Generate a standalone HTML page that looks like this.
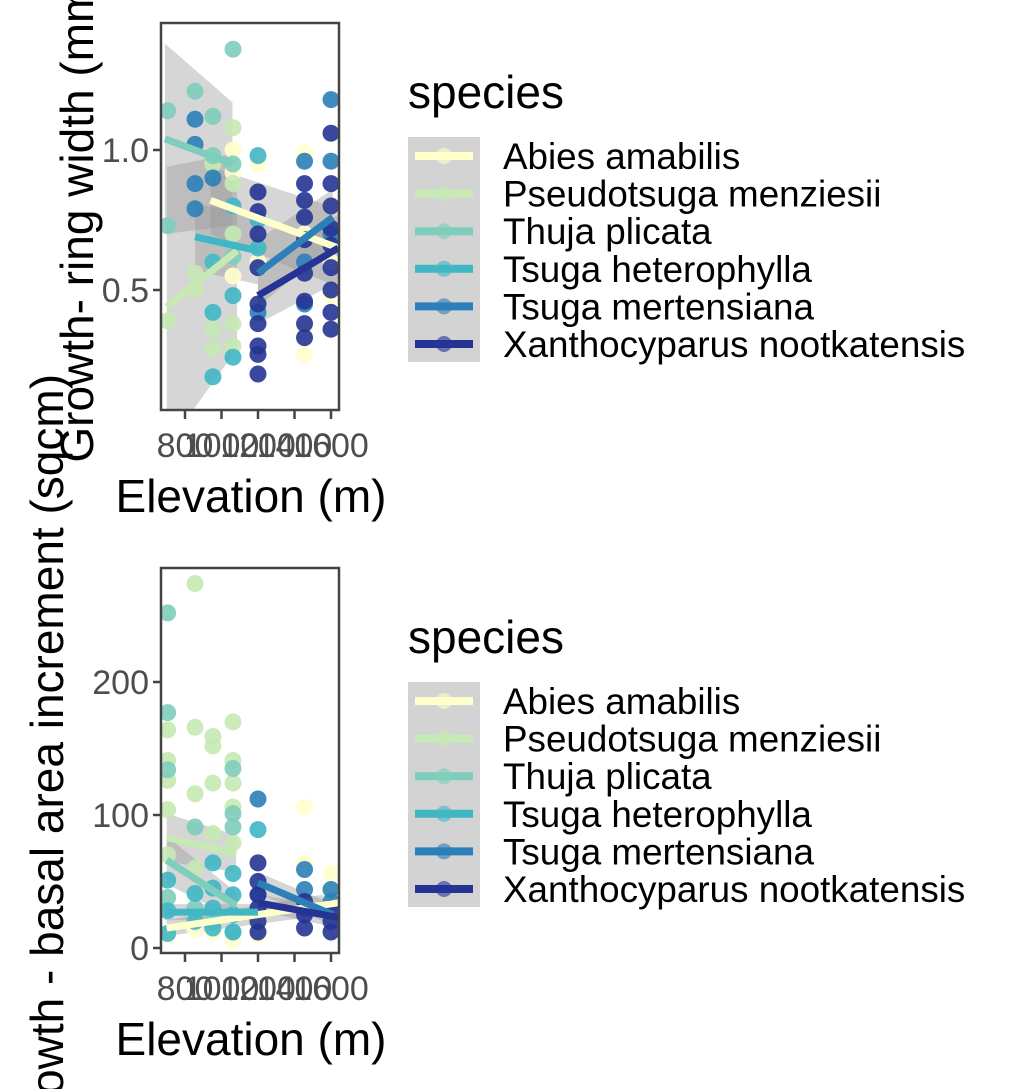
<!DOCTYPE html>
<html><head><meta charset="utf-8"><style>
html,body{margin:0;padding:0;background:#fff;width:1018px;height:1089px;overflow:hidden;}
svg{display:block;font-family:"Liberation Sans",Arial,sans-serif;overflow:hidden;}
</style></head><body>
<svg id="chart" width="1018" height="1089" viewBox="0 0 1018 1089" xmlns="http://www.w3.org/2000/svg"></svg>
<script>
const species = ["Abies amabilis","Pseudotsuga menziesii","Thuja plicata","Tsuga heterophylla","Tsuga mertensiana","Xanthocyparus nootkatensis"];
const colors = ["#ffffcc","#c7e9b4","#7fcdbb","#41b6c4","#2c7fb8","#253494"];
const xTicks = [800,1000,1200,1400,1600];
const ringTicks = [0.5,1.0];
const baiTicks = [0,100,200];

// ring width points [elev, value]
const ringAbies = [[1063,1.0],[1063,0.92],[1200,0.95],[1455,0.99],[1455,0.36],[1455,0.27],[1600,0.48],[1600,0.6],[1200,0.6],[1063,0.55],[1455,0.7],[1600,0.8]];
const ringPseudo = [[705,0.39],[953,0.36],[953,0.29],[1063,1.08],[1063,0.88],[1063,0.38],[1063,0.30],[855,0.56],[953,0.6],[1063,0.7],[953,0.95],[855,0.5]];
const ringThuja = [[705,1.14],[705,0.73],[855,1.21],[1063,1.36],[953,1.12],[1063,0.95],[953,0.98],[1063,0.62]];
const ringTsHet = [[1200,0.98],[953,0.42],[953,0.19],[1063,0.48],[1063,0.26],[1200,0.65],[1063,0.8],[953,0.6],[1200,0.75]];
const ringTsMer = [[1600,1.18],[1600,0.96],[1455,0.96],[855,1.11],[855,1.02],[855,0.88],[855,0.79],[953,0.90],[1200,0.42],[1455,0.45],[1455,0.6],[1600,0.7]];
const ringXan = [[1600,1.06],[1600,0.88],[1600,0.8],[1600,0.72],[1600,0.66],[1600,0.58],[1600,0.5],[1600,0.42],[1600,0.36],[1455,0.88],[1455,0.82],[1455,0.76],[1455,0.68],[1455,0.56],[1455,0.46],[1455,0.38],[1455,0.33],[1200,0.85],[1200,0.78],[1200,0.7],[1200,0.58],[1200,0.45],[1200,0.38],[1200,0.3],[1200,0.27],[1200,0.2]];

const ringFits = [[940,0.82,1640,0.65],[700,0.44,1085,0.64],[690,1.04,1060,0.95],[855,0.69,1200,0.64],[1200,0.56,1610,0.76],[1200,0.48,1640,0.65]];
const ringBands = [[0.12,0.14],[0.5,0.35],[0.34,0.22],[0.12,0.12],[0.12,0.1],[0.1,0.12]];

const baiAbies = [[1455,106],[1600,56],[1455,64],[1200,10],[1063,6],[1600,40],[1455,30],[1200,20],[953,12],[855,14],[705,10]];
const baiPseudo = [[855,274],[705,164],[705,141],[705,126],[705,104],[855,166],[953,159],[953,152],[855,116],[953,124],[1063,170],[1063,141],[1063,124],[1063,106],[953,86],[1063,79],[855,60],[705,70]];
const baiThuja = [[705,252],[705,177],[705,134],[1063,135],[1063,101],[855,91],[1063,91],[705,38],[953,20],[1063,12],[855,30]];
const baiTsHet = [[1200,89],[705,51],[705,11],[855,41],[953,64],[953,45],[953,30],[953,15],[1063,56],[1063,40],[1063,25],[1063,12],[855,20],[705,28]];
const baiTsMer = [[1200,112],[1455,59],[1455,44],[1600,44],[1600,35],[1455,30],[1200,40]];
const baiXan = [[1200,64],[1200,50],[1200,40],[1200,30],[1200,20],[1200,12],[1455,35],[1455,25],[1455,15],[1600,30],[1600,20],[1600,12]];

const baiFits = [[700,15,1640,34],[700,83,1080,71],[700,66,1080,32],[690,27,1200,27],[1200,49,1610,25],[1200,34,1640,23]];
const baiBands = [[6,8],[18,14],[18,10],[6,6],[8,8],[6,8]];

const NS = "http://www.w3.org/2000/svg";
const svg = document.getElementById("chart");
function mk(tag, attrs, parent){const e=document.createElementNS(NS,tag);for(const k in attrs)e.setAttribute(k,attrs[k]);(parent||svg).appendChild(e);return e;}

function panel(cfg){
  const {top,bottom,y0px,yPerUnit,y0val,pts,fits,bands,ticks,fmt,name} = cfg;
  const L=161,R=339;
  const xs = v => 185 + (v-800)*0.1825;
  const ys = v => y0px - (v-y0val)*yPerUnit;
  const g = mk("g",{});
  
  
  const cid = name+"-clip";
  const cp = mk("clipPath",{id:cid},g); mk("rect",{x:L,y:top,width:R-L,height:bottom-top},cp);
  const inner = mk("g",{"clip-path":"url(#"+cid+")"},g);
  fits.forEach((f,i)=>{
    const b=bands[i];
    const p = mk("polygon",{points:[[xs(f[0]),ys(f[1]+b[0])],[xs(f[2]),ys(f[3]+b[1])],[xs(f[2]),ys(f[3]-b[1])],[xs(f[0]),ys(f[1]-b[0])]].map(q=>q.join(",")).join(" "),fill:"#999",opacity:0.4},inner);
    
    
  });
  pts.forEach((arr,i)=>{
    arr.forEach(d=>{
      const c = mk("circle",{cx:xs(d[0]),cy:ys(d[1]),r:8.5,fill:colors[i],opacity:0.9},inner);
      
      
    });
  });
  fits.forEach((f,i)=>{
    const l = mk("line",{x1:xs(f[0]),y1:ys(f[1]),x2:xs(f[2]),y2:ys(f[3]),stroke:colors[i],"stroke-width":7},inner);
    
    
  });
  mk("rect",{x:L,y:top,width:R-L,height:bottom-top,fill:"none",stroke:"#444","stroke-width":2.5},g);
  ticks.forEach(t=>{
    const y=ys(t);
    mk("line",{x1:L-8,x2:L,y1:y,y2:y,stroke:"#444","stroke-width":2.5},g);
    const tx = mk("text",{x:L-12,y:y+12,"text-anchor":"end","font-size":34,fill:"#4d4d4d"},g);
    tx.textContent = fmt(t);
    
    
  });
  xTicks.forEach(t=>{
    const x=xs(t);
    mk("line",{x1:x,x2:x,y1:bottom,y2:bottom+9,stroke:"#444","stroke-width":2.5},g);
    const tx = mk("text",{x:x,y:bottom+47,"text-anchor":"middle","font-size":34,fill:"#4d4d4d"},g);
    tx.textContent = t;
    
    
  });
  const xt = mk("text",{x:251,y:bottom+102,"text-anchor":"middle","font-size":46,fill:"#000"},g);
  xt.textContent="Elevation (m)";
  
  
  const yt = mk("text",{x:0,y:0,"text-anchor":"middle","font-size":46,fill:"#000",transform:"translate("+cfg.ytx+","+cfg.yty+") rotate(-90)"},g);
  yt.textContent=cfg.ytitle;
  
  
  const lg = mk("g",{},g);
  
  
  const lt = mk("text",{x:408,y:cfg.legTop-29,"font-size":46,fill:"#000"},lg);
  lt.textContent="species";
  mk("rect",{x:408,y:cfg.legTop,width:72,height:225,fill:"#d3d3d3"},lg);
  species.forEach((s,i)=>{
    const cy = cfg.legTop+19+i*37.6;
    const e = mk("g",{},lg);
    
    
    mk("line",{x1:415,x2:473,y1:cy,y2:cy,stroke:colors[i],"stroke-width":8},e);
    mk("circle",{cx:444,cy:cy,r:8,fill:colors[i],opacity:0.6},e);
    const tt = mk("text",{x:503,y:cy+13,"font-size":36.8,fill:"#000"},e);
    tt.textContent=s;
  });
}

panel({name:"ring",top:23,bottom:410,y0px:290,yPerUnit:280,y0val:0.5,
  pts:[ringAbies,ringPseudo,ringThuja,ringTsHet,ringTsMer,ringXan],fits:ringFits,bands:ringBands,
  ticks:ringTicks,fmt:t=>t.toFixed(1),ytitle:"Growth- ring width (mm)",ytx:93,yty:216,legTop:137});
panel({name:"bai",top:568,bottom:953,y0px:948,yPerUnit:1.33,y0val:0,
  pts:[baiAbies,baiPseudo,baiThuja,baiTsHet,baiTsMer,baiXan],fits:baiFits,bands:baiBands,
  ticks:baiTicks,fmt:t=>String(t),ytitle:"Growth - basal area increment (sqcm)",ytx:63,yty:760,legTop:682});
</script>
</body></html>
